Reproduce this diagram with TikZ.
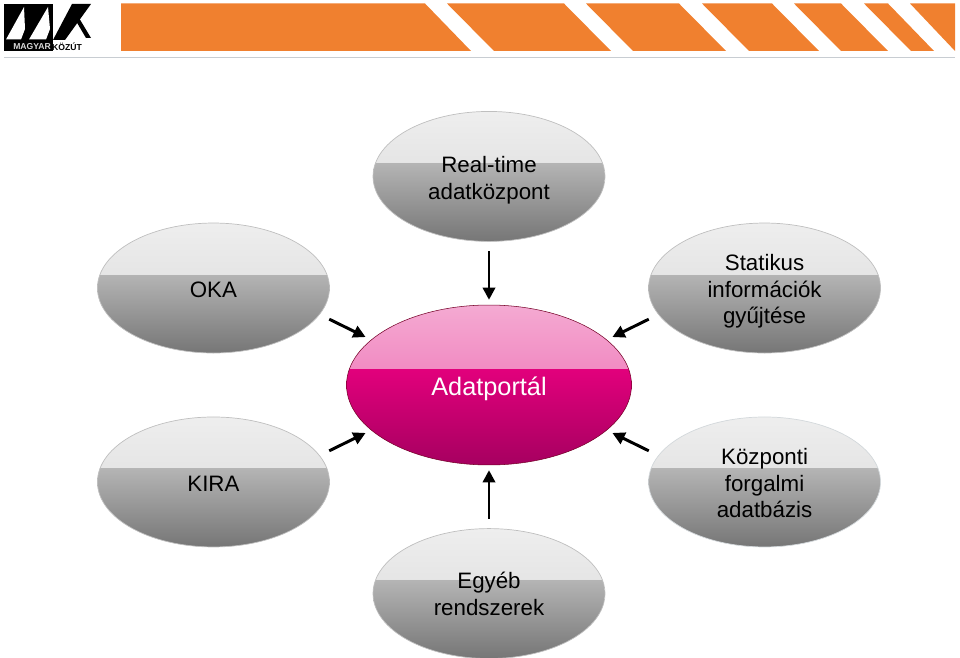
\documentclass[tikz,border=0pt]{standalone}
\usepackage{fontspec}
\setmainfont{Liberation Sans}
\usepackage{tikz}
\usetikzlibrary{positioning, shapes.geometric, arrows.meta, calc}
\definecolor{bandorange}{HTML}{F0802F}
\definecolor{ruleblue}{HTML}{C8CDD2}
\definecolor{greya}{HTML}{EEEEEE}
\definecolor{greyb}{HTML}{D8D8D8}
\definecolor{greyc}{HTML}{B4B4B4}
\definecolor{greyd}{HTML}{767676}
\definecolor{pinka}{HTML}{F4AAD2}
\definecolor{pinkb}{HTML}{EE5EAC}
\definecolor{pinkc}{HTML}{E2007C}
\definecolor{pinkd}{HTML}{A60060}
\newcommand{\firstline}[1]{\rule{0pt}{#1}}
\tikzset{
  glossy/.style n args={4}{ellipse, inner sep=0pt, align=center,
    minimum width=4.64cm, minimum height=2.6cm,
    path picture={
      \shade[top color=#1, bottom color=#2]
        (path picture bounding box.north west) rectangle
        ($(path picture bounding box.north east)!0.4!(path picture bounding box.south east)$);
      \shade[top color=#3, bottom color=#4]
        ($(path picture bounding box.north west)!0.4!(path picture bounding box.south west)$) rectangle
        (path picture bounding box.south east);
    }},
  greybox/.style={glossy={greya}{greyb}{greyc}{greyd}, draw=black!25, line width=.4pt,
    font=\fontsize{12.7}{15.2}\selectfont, text=black},
  link/.style={-{Triangle[length=7pt,width=7pt]}, line width=1.7pt},
}
\begin{document}
\begin{tikzpicture}[x=.02cm, y=-.02cm]
\useasboundingbox (0,0) rectangle (960,658);
% banner
\foreach \tl/\tr/\br/\bl in {121/425/471/121, 447/564/611/494, 586/679/726/633, 702/772/819/749, 794/841/888/841, 864/888/934/911}
  \fill[bandorange] (\tl,3.5) -- (\tr,3.5) -- (\br,51) -- (\bl,51) -- cycle;
\fill[bandorange] (910,3.5) -- (955,3.5) -- (955,51) -- cycle;
\fill[ruleblue] (4,57) rectangle (955,58.5);
% logo
\fill[black] (4,4) rectangle (53,51);
\fill[white] (6,39.5) -- (24,7) -- (25,29) -- (21,39.5) -- cycle;
\fill[white] (29,39.5) -- (48,7) -- (50,29) -- (46,39.5) -- cycle;
\fill[black] (53,40) -- (72,4) -- (91,4) -- (65,40) -- cycle;
\fill[black] (76,21) -- (79,18) -- (91,38) -- (86,38) -- cycle;
\node[text=black!15, font=\fontsize{4.9}{6}\bfseries\selectfont] (magyar) at (32,46.5) {MAGYAR};
\node[font=\fontsize{4.9}{6}\bfseries\selectfont] (kozut) at (67,46.5) {KÖZÚT};
% nodes
\node[glossy={pinka}{pinkb}{pinkc}{pinkd}, draw=black!40!purple, line width=.3pt,
  minimum width=5.7cm, minimum height=3.2cm, text=white,
  font=\fontsize{14.4}{16}\selectfont] (adat) at (489,385) {\firstline{14.5pt}Adatportál};
\node[greybox, above=1.26cm of adat] (realtime) {\firstline{13.7pt}Real-time\\adatközpont};
\node[greybox, below=1.26cm of adat] (egyeb) {Egyéb\\rendszerek};
\node[greybox, left=.33cm of adat, yshift=1.94cm] (oka) {\firstline{11.4pt}OKA};
\node[greybox, right=.33cm of adat, yshift=1.94cm] (statikus) {\firstline{13pt}Statikus\\információk\\gyűjtése};
\node[greybox, left=.33cm of adat, yshift=-1.94cm] (kira) {\firstline{10.3pt}KIRA};
\node[greybox, right=.33cm of adat, yshift=-1.94cm, draw=cyan!20!black!20] (kozponti) {\firstline{10.5pt}Központi\\forgalmi\\adatbázis};
% arrows
\draw[link, shorten <=5.5pt, shorten >=2.8pt] (realtime) -- (adat);
\draw[link, shorten <=5.5pt, shorten >=2.8pt] (egyeb) -- (adat);
\draw[link, shorten <=6pt, shorten >=3.5pt] (oka.-14) -- (adat.159);
\draw[link, shorten <=6pt, shorten >=3.5pt] (statikus.194) -- (adat.21);
\draw[link, shorten <=6pt, shorten >=3.5pt] (kira.14) -- (adat.201);
\draw[link, shorten <=6pt, shorten >=3.5pt] (kozponti.166) -- (adat.-21);
\end{tikzpicture}
\end{document}
